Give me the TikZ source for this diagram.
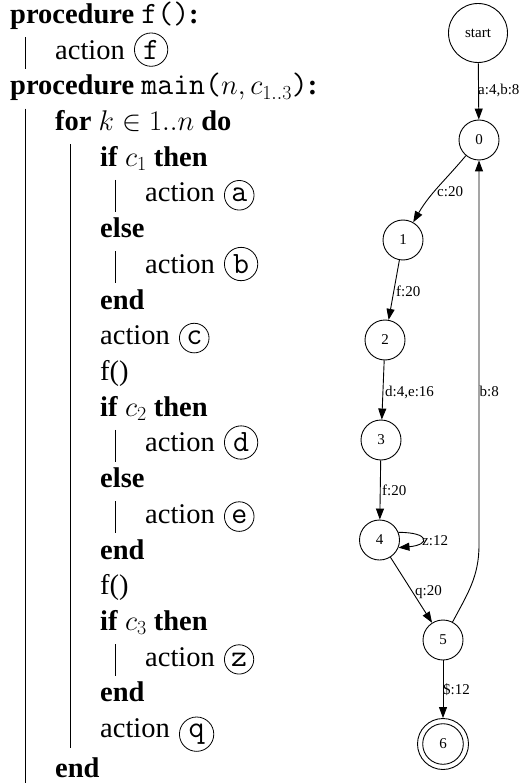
\RequirePackage{fix-cm}
\documentclass[tikz,border=0pt]{standalone}
\usepackage{fontspec}
\setmainfont{Liberation Serif}
\usetikzlibrary{arrows.meta,calc}
\newcommand\mymono[1]{{\fontsize{31}{34}\selectfont\ttfamily #1}}
\begin{document}
\begin{tikzpicture}[x=1pt,y=-1pt,
  alg/.style={anchor=base west,inner sep=0pt,font=\fontsize{28.5}{34}\selectfont},
  bar/.style={line width=0.9pt},
  circ/.style={circle,draw,line width=0.8pt,inner sep=3pt,anchor=base west,font=\fontsize{31}{31}\selectfont\ttfamily},
  st/.style={circle,draw,line width=0.9pt,minimum size=40pt,inner sep=0pt,font=\fontsize{15}{15}\selectfont},
  lab/.style={anchor=base west,inner sep=0pt,font=\fontsize{15}{15}\selectfont},
  edge/.style={line width=0.9pt,-{Triangle[length=11pt,width=8pt]}},
]
\useasboundingbox (0,0) rectangle (521,783);

% ---------- algorithm ----------
\node[alg] (t0) at (10,23.5) {\textbf{procedure} \mymono{f()}\textbf{:}};
\node[alg] (t1) at (55,59.2) {action};
\node[circ] (cf) at ($(t1.base east)+(9,0)$) {f};
\node[alg] (t2) at (10,94.9) {\textbf{procedure} \mymono{main(}$n, c_{1..3}$\mymono{)}\textbf{:}};
\node[alg] (t3) at (55,130.6) {\textbf{for} $k \in 1..n$ \textbf{do}};
\node[alg] (t4) at (100,166.3) {\textbf{if} $c_1$ \textbf{then}};
\node[alg] (t5) at (145,202.0) {action};
\node[circ] (ca) at ($(t5.base east)+(9,0)$) {a};
\node[alg] (t6) at (100,237.7) {\textbf{else}};
\node[alg] (t7) at (145,273.4) {action};
\node[circ] (cb) at ($(t7.base east)+(9,0)$) {b};
\node[alg] (t8) at (100,309.1) {\textbf{end}};
\node[alg] (t9) at (100,344.8) {action};
\node[circ] (cc) at ($(t9.base east)+(9,0)$) {c};
\node[alg] (t10) at (100,380.5) {f()};
\node[alg] (t11) at (100,416.2) {\textbf{if} $c_2$ \textbf{then}};
\node[alg] (t12) at (145,451.9) {action};
\node[circ] (cd) at ($(t12.base east)+(9,0)$) {d};
\node[alg] (t13) at (100,487.6) {\textbf{else}};
\node[alg] (t14) at (145,523.3) {action};
\node[circ] (ce) at ($(t14.base east)+(9,0)$) {e};
\node[alg] (t15) at (100,559.0) {\textbf{end}};
\node[alg] (t16) at (100,594.7) {f()};
\node[alg] (t17) at (100,630.4) {\textbf{if} $c_3$ \textbf{then}};
\node[alg] (t18) at (145,666.1) {action};
\node[circ] (cz) at ($(t18.base east)+(9,0)$) {z};
\node[alg] (t19) at (100,701.8) {\textbf{end}};
\node[alg] (t20) at (100,737.5) {action};
\node[circ] (cq) at ($(t20.base east)+(9,0)$) {q};
\node[alg] (t21) at (55,777) {\textbf{end}};

% block bars
\draw[bar] (25,37.2) -- (25,69.2);
\draw[bar] (25,108.6) -- (25,783);
\draw[bar] (70,144.3) -- (70,747.5);
\draw[bar] (115,180) -- (115,212);
\draw[bar] (115,251.4) -- (115,283.4);
\draw[bar] (115,429.9) -- (115,461.9);
\draw[bar] (115,501.3) -- (115,533.3);
\draw[bar] (115,644.1) -- (115,676.1);

% ---------- automaton ----------
\node[st,minimum size=59pt] (nS) at (478,33) {start};
\node[st] (n0) at (479,140) {0};
\node[st] (n1) at (403,240) {1};
\node[st] (n2) at (385,340) {2};
\node[st] (n3) at (381,440) {3};
\node[st] (n4) at (379.5,540) {4};
\node[st] (n5) at (443,640) {5};
\node[st,minimum size=51pt] (n6) at (443,744) {6};
\draw[line width=0.9pt] (n6.center) circle[radius=20.3pt];
\coordinate (k50) at (479,545);

\draw[edge] (nS) -- (n0);
\draw[edge] (n0) to[out=230,in=60] (n1);
\draw[edge] (n1) -- (n2);
\draw[edge] (n2) -- (n3);
\draw[edge] (n3) -- (n4);
\draw[edge] (n4.22) .. controls +(0:32pt) and +(5:32pt) .. (n4.-22);
\draw[edge] (n4) -- (n5);
\draw[edge] (n5) to[out=62,in=-90] (k50) -- (n0);
\draw[edge] (n5) -- (n6);

\node[lab] (l1) at (478,95) {a:4,b:8};
\node[lab] (l2) at (437,197) {c:20};
\node[lab] (l3) at (396,296) {f:20};
\node[lab] (l4) at (385,396) {d:4,e:16};
\node[lab] (l5) at (479.5,396) {b:8};
\node[lab] (l6) at (382,495) {f:20};
\node[lab] (l7) at (422,545) {z:12};
\node[lab] (l8) at (415,595) {q:20};
\node[lab] (l9) at (443,694) {\$:12};
\end{tikzpicture}
\end{document}
